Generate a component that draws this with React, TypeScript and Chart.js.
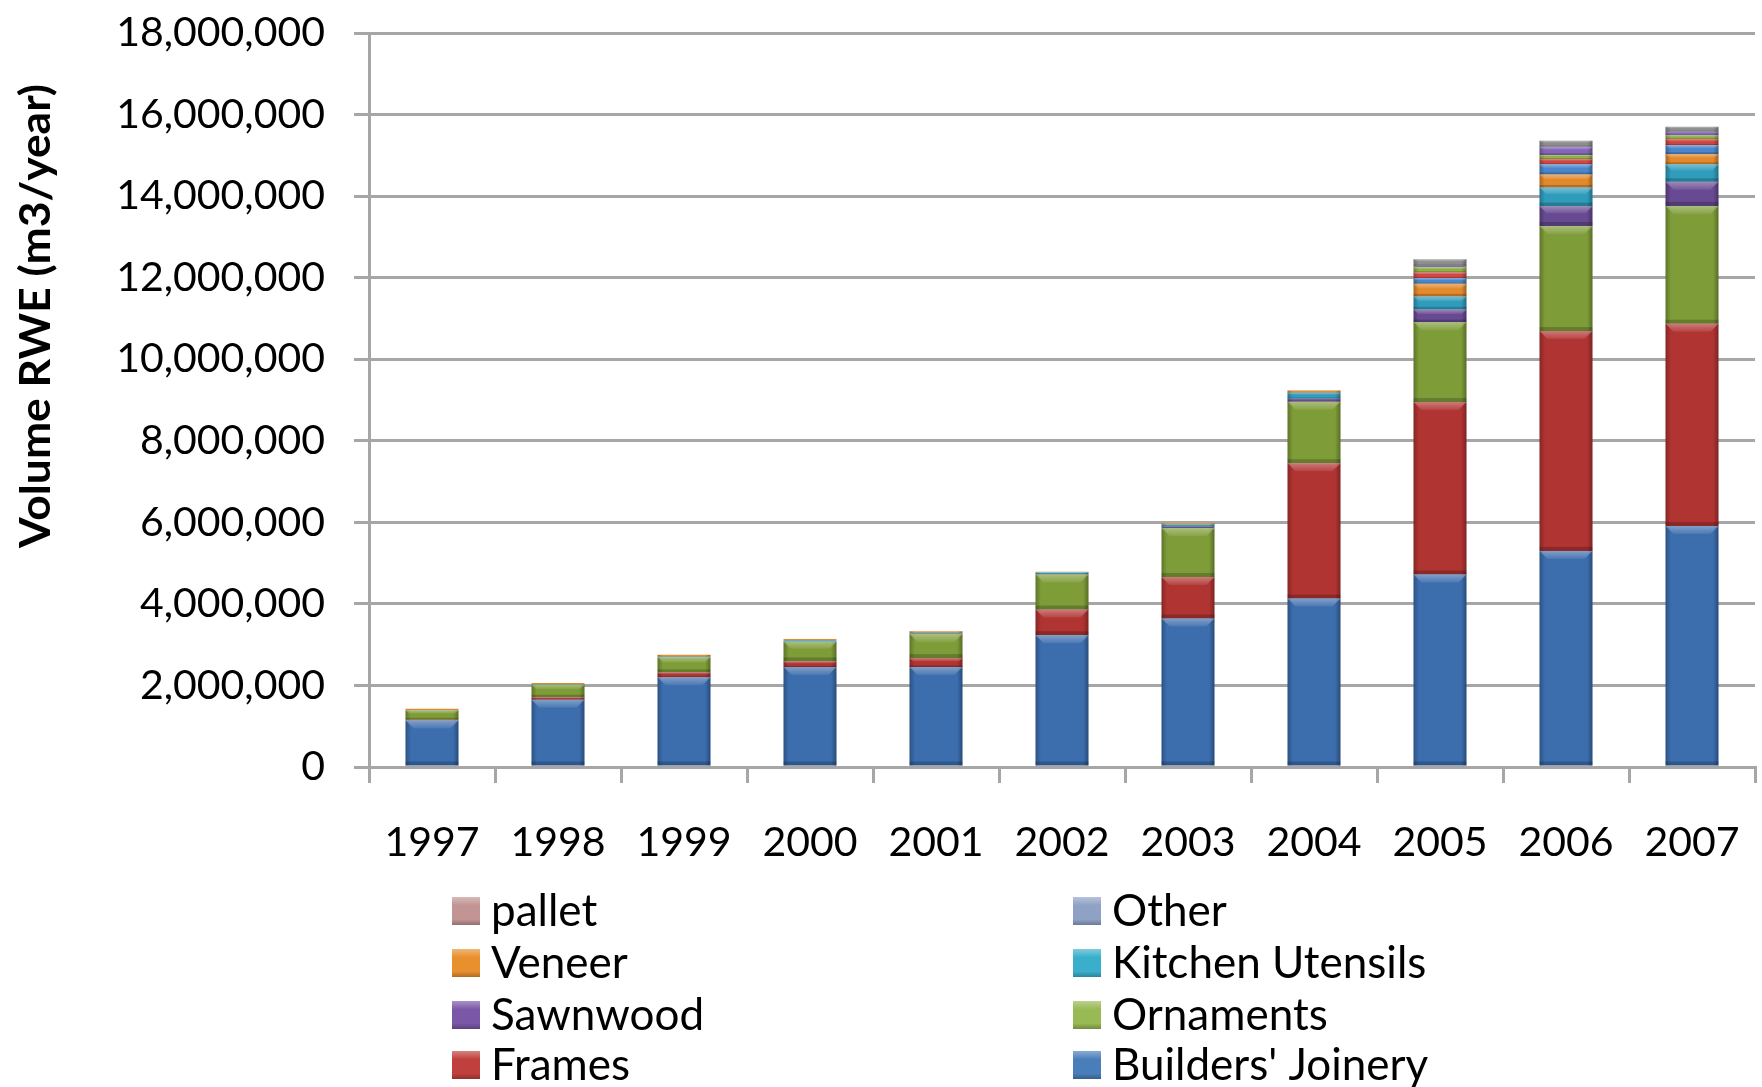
import { useEffect, useRef } from 'react';
import { Chart, registerables } from 'chart.js';

Chart.register(...registerables);

// ---------- data (m3/year RWE) ----------
const years = ['1997', '1998', '1999', '2000', '2001', '2002', '2003', '2004', '2005', '2006', '2007'];

const buildersJoinery = [1140000, 1650000, 2200000, 2450000, 2450000, 3230000, 3640000, 4130000, 4720000, 5300000, 5910000];
const frames = [20000, 60000, 120000, 140000, 220000, 630000, 1020000, 3320000, 4230000, 5390000, 4960000];
const ornaments = [230000, 310000, 370000, 480000, 590000, 860000, 1200000, 1510000, 1960000, 2580000, 2890000];
const sawnwood = [0, 0, 10000, 10000, 10000, 10000, 30000, 70000, 310000, 480000, 590000];
const kitchenUtensils = [10000, 10000, 10000, 30000, 20000, 40000, 50000, 150000, 320000, 460000, 430000];
const veneer = [30000, 30000, 40000, 30000, 40000, 20000, 40000, 50000, 310000, 320000, 250000];
const other = [0, 0, 0, 0, 0, 0, 0, 10000, 140000, 250000, 220000];
const pallet = [0, 0, 0, 0, 0, 0, 0, 0, 140000, 130000, 150000];
// thin unlabelled layers visible on top of the 2005-2007 bars (not in the legend)
const series9 = [0, 0, 0, 0, 0, 0, 0, 0, 130000, 100000, 90000];
const series10 = [0, 0, 0, 0, 0, 0, 0, 0, 30000, 200000, 90000];
const series11 = [0, 0, 0, 0, 0, 0, 0, 0, 160000, 150000, 120000];

const yMin = 0;
const yMax = 18000000;
const yStep = 2000000;

const FONT = 'Lato, "Open Sans", "Liberation Sans", sans-serif';
const GRID = '#a6a6a6';

type Series = { label: string; data: number[]; bar: string; swatch: string; inLegend: boolean };

const seriesList: Series[] = [
  { label: "Builders' Joinery", data: buildersJoinery, bar: '#3c6dad', swatch: '#4a7ebb', inLegend: true },
  { label: 'Frames', data: frames, bar: '#b03432', swatch: '#c0403d', inLegend: true },
  { label: 'Ornaments', data: ornaments, bar: '#7e9c38', swatch: '#98b953', inLegend: true },
  { label: 'Sawnwood', data: sawnwood, bar: '#674a92', swatch: '#7a57a7', inLegend: true },
  { label: 'Kitchen Utensils', data: kitchenUtensils, bar: '#2f9cbb', swatch: '#3aafcb', inLegend: true },
  { label: 'Veneer', data: veneer, bar: '#e2892c', swatch: '#e8902e', inLegend: true },
  { label: 'Other', data: other, bar: '#4a86cc', swatch: '#8fa2c5', inLegend: true },
  { label: 'pallet', data: pallet, bar: '#cf4744', swatch: '#c29494', inLegend: true },
  { label: 'Series 9', data: series9, bar: '#8fb044', swatch: '#8fb044', inLegend: false },
  { label: 'Series 10', data: series10, bar: '#8466b8', swatch: '#8466b8', inLegend: false },
  { label: 'Series 11', data: series11, bar: '#8e8e8e', swatch: '#8e8e8e', inLegend: false },
];

const bevelPlugin = {
  id: 'bevel',
  afterDatasetsDraw(chart: any) {
    const ctx = chart.ctx as CanvasRenderingContext2D;
    chart.data.datasets.forEach((_ds: any, di: number) => {
      const meta = chart.getDatasetMeta(di);
      meta.data.forEach((el: any) => {
        const p = el.getProps(['x', 'y', 'base', 'width'], true);
        const left = p.x - p.width / 2;
        const right = p.x + p.width / 2;
        const top = Math.min(p.y, p.base);
        const h = Math.abs(p.base - p.y);
        if (h < 1.5) return;
        ctx.save();
        const g = ctx.createLinearGradient(left, 0, right, 0);
        g.addColorStop(0, 'rgba(0,0,0,0.25)');
        g.addColorStop(0.1, 'rgba(0,0,0,0.0)');
        g.addColorStop(0.9, 'rgba(0,0,0,0.0)');
        g.addColorStop(1, 'rgba(0,0,0,0.3)');
        ctx.fillStyle = g;
        ctx.fillRect(left, top, p.width, h);
        const th = Math.min(8, h * 0.35);
        const tg = ctx.createLinearGradient(0, top, 0, top + th);
        tg.addColorStop(0, 'rgba(255,255,255,0.35)');
        tg.addColorStop(1, 'rgba(255,255,255,0.08)');
        ctx.fillStyle = tg;
        ctx.beginPath();
        ctx.moveTo(left, top);
        ctx.lineTo(right, top);
        ctx.lineTo(right - th, top + th);
        ctx.lineTo(left + th, top + th);
        ctx.closePath();
        ctx.fill();
        const bh = Math.min(4, h * 0.2);
        ctx.fillStyle = 'rgba(0,0,0,0.2)';
        ctx.fillRect(left, top + h - bh, p.width, bh);
        ctx.restore();
      });
    });
  },
};

const legendPlugin = {
  id: 'twoColLegend',
  afterDraw(chart: any) {
    const ctx = chart.ctx as CanvasRenderingContext2D;
    const items = chart.data.datasets
      .map((ds: any, i: number) => ({ label: ds.label, color: seriesList[i].swatch, show: seriesList[i].inLegend }))
      .filter((it: any) => it.show)
      .reverse();
    const colX = [452, 1073];
    const rowY = [911, 963, 1015, 1065];
    ctx.save();
    ctx.font = `44px ${FONT}`;
    ctx.textBaseline = 'middle';
    ctx.textAlign = 'left';
    items.forEach((it: any, i: number) => {
      const col = i % 2;
      const row = Math.floor(i / 2);
      const x = colX[col];
      const y = rowY[row];
      const s = 28;
      ctx.fillStyle = it.color;
      ctx.fillRect(x, y - s / 2, s, s);
      const g = ctx.createLinearGradient(0, y - s / 2, 0, y + s / 2);
      g.addColorStop(0, 'rgba(255,255,255,0.35)');
      g.addColorStop(0.3, 'rgba(255,255,255,0.0)');
      g.addColorStop(0.8, 'rgba(0,0,0,0.0)');
      g.addColorStop(1, 'rgba(0,0,0,0.25)');
      ctx.fillStyle = g;
      ctx.fillRect(x, y - s / 2, s, s);
      ctx.fillStyle = '#000';
      ctx.fillText(it.label, x + 39, y + 1);
    });
    ctx.restore();
  },
};

const yTitlePlugin = {
  id: 'yTitle',
  afterDraw(chart: any) {
    const ctx = chart.ctx as CanvasRenderingContext2D;
    ctx.save();
    ctx.translate(36, 316);
    ctx.rotate(-Math.PI / 2);
    ctx.font = `bold 42px ${FONT}`;
    ctx.fillStyle = '#000';
    ctx.textAlign = 'center';
    ctx.textBaseline = 'middle';
    const text = 'Volume RWE (m3/year)';
    const w = ctx.measureText(text).width;
    ctx.scale(464 / w, 1);
    ctx.fillText(text, 0, 0);
    ctx.restore();
  },
};

export default function App() {
  const ref = useRef<HTMLCanvasElement>(null);

  useEffect(() => {
    const canvas = ref.current;
    if (!canvas) return;
    const chart = new Chart(canvas, {
      type: 'bar',
      data: {
        labels: years,
        datasets: seriesList.map((s) => ({
          label: s.label,
          data: s.data,
          backgroundColor: s.bar,
          borderWidth: 0,
          categoryPercentage: 1,
          barPercentage: 0.42,
        })),
      },
      options: {
        animation: false,
        responsive: false,
        devicePixelRatio: 1,
        layout: { padding: { top: 33, right: 7, bottom: 225, left: 0 } },
        plugins: {
          legend: { display: false },
          tooltip: { enabled: false },
          title: { display: false },
        },
        scales: {
          x: {
            stacked: true,
            grid: {
              display: true,
              offset: true,
              drawOnChartArea: false,
              drawTicks: true,
              tickLength: 16,
              color: GRID,
              lineWidth: 3,
            },
            border: { display: true, color: GRID, width: 3 },
            ticks: { color: '#000', font: { family: FONT, size: 41 }, padding: 35, maxRotation: 0, autoSkip: false },
            afterFit: (scale: any) => {
              scale.height = 95;
              scale.paddingLeft = 0;
              scale.paddingRight = 0;
            },
          },
          y: {
            stacked: true,
            min: yMin,
            max: yMax,
            grid: { color: GRID, lineWidth: 3, tickLength: 15, drawTicks: true },
            border: { display: true, color: GRID, width: 3 },
            ticks: {
              stepSize: yStep,
              color: '#000',
              font: { family: FONT, size: 41 },
              padding: 29,
              callback: (v: any) => Number(v).toLocaleString('en-US'),
            },
            afterFit: (scale: any) => {
              scale.width = 369;
              scale.paddingTop = 0;
              scale.paddingBottom = 0;
            },
          },
        },
      },
      plugins: [bevelPlugin, legendPlugin, yTitlePlugin],
    });
    return () => chart.destroy();
  }, []);

  return (
    <div style={{ position: 'fixed', left: 0, top: 0, width: 1762, height: 1087, background: '#fff' }}>
      <canvas ref={ref} width={1762} height={1087} style={{ width: '1762px', height: '1087px', display: 'block' }} />
    </div>
  );
}
